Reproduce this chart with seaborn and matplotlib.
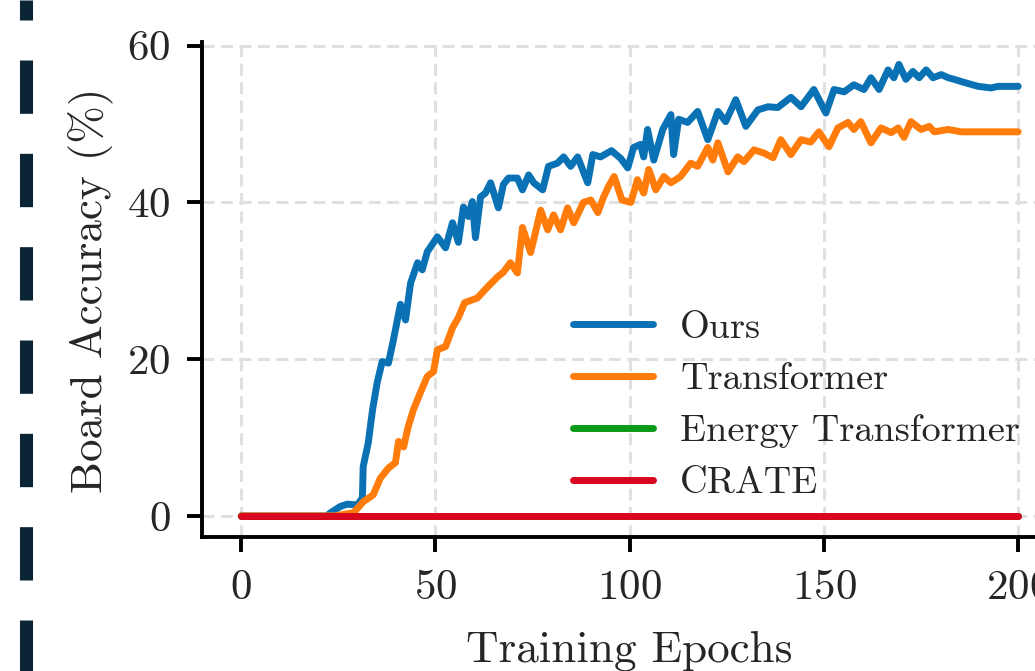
import matplotlib
matplotlib.use('Agg')
import pandas as pd
import matplotlib.pyplot as plt
import seaborn as sns
from matplotlib.lines import Line2D

# values
models = ['Ours', 'Transformer', 'Energy Transformer', 'CRATE']

ours_epoch = [0, 22, 23, 25.5, 27.3, 29.9, 31.2, 31.4, 32.7, 33.8, 35.0, 36.3, 37.9, 39.2, 41.0,
              42.3, 43.6, 45.4, 46.6, 47.9, 50.5, 52.6, 54.4, 55.9, 57.2, 58.5, 59.5, 60.3, 61.6,
              62.9, 64.2, 66.2, 67.5, 68.8, 71.1, 72.4, 74.0, 75.3, 77.6, 79.1, 81.4, 83.0, 84.8,
              86.6, 89.2, 90.5, 92.5, 95.3, 97.7, 99.5, 101.0, 102.8, 103.6, 104.6, 106.2, 108.5,
              110.6, 111.3, 112.6, 114.9, 117.5, 120.1, 122.7, 124.7, 127.3, 129.9, 133.0, 135.6,
              138.1, 141.5, 144.1, 147.4, 150.5, 152.6, 155.2, 157.7, 160.3, 162.1, 164.2, 166.5,
              168.0, 169.3, 171.1, 172.9, 174.5, 176.3, 178.1, 180.2, 182.0, 183.5, 186.1, 189.7,
              193.0, 194.8, 197.4, 200.0]
ours_acc = [0, 0, 0.4, 1.2, 1.5, 1.4, 2.3, 6.3, 9.3, 13.5, 17.0, 19.7, 19.5, 22.5, 27.0,
            25.0, 29.7, 32.3, 31.4, 33.7, 35.6, 34.2, 37.4, 34.9, 39.4, 38.2, 40.1, 35.5, 40.7,
            41.2, 42.5, 39.3, 42.3, 43.1, 43.1, 41.6, 43.5, 42.5, 41.6, 44.6, 45.0, 45.8, 44.6,
            45.8, 42.5, 46.1, 45.8, 46.6, 45.6, 44.4, 47.0, 47.4, 45.8, 49.3, 45.4, 49.3,
            51.2, 46.1, 50.6, 50.2, 51.6, 48.0, 51.6, 50.3, 53.1, 49.7, 51.8, 52.2,
            52.1, 53.4, 52.2, 54.4, 51.4, 54.4, 54.1, 55.0, 54.4, 55.9, 54.4, 56.9,
            55.9, 57.6, 55.7, 56.7, 55.9, 56.9, 55.9, 56.3, 55.9, 55.7, 55.3, 54.8,
            54.6, 54.8, 54.8, 54.8]

transformer_epoch = [0, 24, 28.9, 31.4, 34.0, 35.8, 37.9, 39.7, 40.5, 41.8, 43.0, 44.3, 46.1, 47.9,
                     49.5, 50.5, 52.6, 54.4, 55.9, 57.5, 60.8, 63.4, 66.0, 67.5, 69.3, 71.1, 72.4,
                     74.5, 77.1, 78.9, 80.4, 82.2, 84.0, 85.6, 88.1, 90.0, 91.8, 93.3, 94.5, 96.0,
                     98.0, 100.3, 102.0, 103.6, 104.9, 106.7, 108.8, 110.6, 113.1, 115.7, 117.5,
                     120.1, 121.4, 122.7, 125.3, 127.8, 129.4, 132.0, 134.5, 136.9, 138.9, 141.5,
                     144.1, 146.6, 148.7, 151.3, 153.6, 156.2, 157.7, 159.5, 162.1, 164.7, 167.3,
                     169.1, 170.6, 172.4, 175.0, 177.1, 178.4, 182.0, 185.3, 189.7, 193.8, 200.0]
transformer_acc = [0, 0, 0.4, 1.8, 2.7, 4.8, 6.1, 6.8, 9.5, 8.8, 11.4, 13.5, 15.7, 17.8,
                   18.4, 21.2, 21.6, 24.0, 25.3, 27.2, 27.8, 29.2, 30.5, 31.1, 32.3, 31.0, 36.8,
                   33.6, 39.0, 36.5, 38.4, 36.5, 39.3, 37.4, 40.0, 40.3, 38.7, 40.7, 42.0, 43.3,
                   40.3, 40.0, 42.9, 41.2, 44.2, 41.6, 43.3, 42.5, 43.3, 45.0, 44.6,
                   47.0, 45.4, 47.6, 43.9, 45.8, 45.2, 46.7, 46.3, 45.7, 48.0, 46.1,
                   48.0, 47.7, 49.0, 47.1, 49.5, 50.2, 49.3, 50.3, 47.6, 49.5, 48.9,
                   49.5, 48.3, 50.3, 49.3, 49.7, 49.0, 49.3, 49.0, 49.0, 49.0, 49.0]

energy_epoch = [0, 200]
energy_acc = [0.0, 0.0]

crate_epoch = [0, 200]
crate_acc = [0.0, 0.0]

colors = ['#0a72b4', '#ff7b0a', '#0b9a18', '#d9061f']

series = [(ours_epoch, ours_acc), (transformer_epoch, transformer_acc),
          (energy_epoch, energy_acc), (crate_epoch, crate_acc)]
frames = []
for name, (ep, acc) in zip(models, series):
    frames.append(pd.DataFrame({'epoch': ep, 'acc': acc, 'model': name}))
df = pd.concat(frames, ignore_index=True)

sns.set_style('ticks')
plt.rcParams['font.family'] = ['cmr10', 'DejaVu Serif']
plt.rcParams['mathtext.fontset'] = 'cm'
plt.rcParams['axes.formatter.use_mathtext'] = True
plt.rcParams['lines.scale_dashes'] = False

fig = plt.figure(figsize=(10.35, 6.71), dpi=100)
ax = fig.add_axes([0.1955, 0.199, 0.8258, 0.7377])

sns.lineplot(data=df, x='epoch', y='acc', hue='model', hue_order=models,
             palette=dict(zip(models, colors)), linewidth=5.0, estimator=None,
             ax=ax)

ax.set_xlim(-10, 210)
ax.set_ylim(-2.75, 60.4)
ax.set_xticks([0, 50, 100, 150, 200])
ax.set_yticks([0, 20, 40, 60])
ax.grid(True, color='#e0e0e0', linestyle=(0, (8.6, 4.7)), linewidth=2.2)
ax.set_axisbelow(True)
sns.despine(ax=ax)
for s in ['left', 'bottom']:
    ax.spines[s].set_linewidth(2.8)
    ax.spines[s].set_color('black')
ax.tick_params(direction='out', length=11, width=2.8, pad=12, labelsize=31, color='black')

ax.set_xlabel('Training Epochs', fontsize=32.5, labelpad=17)
ax.set_ylabel('Board Accuracy (%)', fontsize=32.5, labelpad=10)

handles, labels = ax.get_legend_handles_labels()
ax.legend(handles, labels, loc='center left', bbox_to_anchor=(0.5536, 0.3957),
          bbox_transform=fig.transFigure, frameon=False, fontsize=27.6, borderpad=0,
          handlelength=2.1, handletextpad=0.7, labelspacing=0.47, borderaxespad=0)

# dashed frame edge on the left of the crop
fig.add_artist(Line2D([0.0256, 0.0256], [1, 0], transform=fig.transFigure,
                      color='#0b2436', linewidth=9.4, solid_capstyle='butt',
                      dash_capstyle='butt', linestyle=(24, (38.4, 28.8))))

fig.savefig('out.png', dpi=100)
